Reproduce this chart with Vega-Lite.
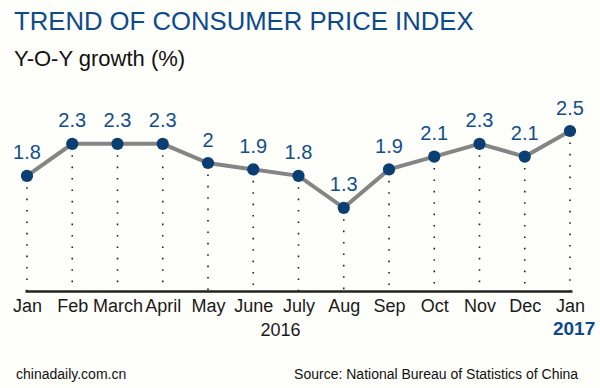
{
  "$schema": "https://vega.github.io/schema/vega-lite/v6.json",
  "autosize": "none",
  "width": 547,
  "height": 216,
  "padding": {"left": 25, "top": 75, "right": 28, "bottom": 97},
  "background": "#fefefb",
  "config": {
    "view": {"stroke": null},
    "font": "Liberation Sans",
    "text": {"font": "Liberation Sans"}
  },
  "title": {
    "text": "TREND OF CONSUMER PRICE INDEX",
    "subtitle": "Y-O-Y growth (%)",
    "anchor": "start",
    "frame": "group",
    "dx": -11,
    "offset": 4,
    "font": "Liberation Sans",
    "fontSize": 25.7,
    "fontWeight": "normal",
    "color": "#0d4a8a",
    "subtitleFont": "Liberation Sans",
    "subtitleFontSize": 22,
    "subtitleColor": "#111111",
    "subtitlePadding": 13
  },
  "data": {
    "values": [
      {"i": 0, "month": "Jan", "v": 1.8},
      {"i": 1, "month": "Feb", "v": 2.3},
      {"i": 2, "month": "March", "v": 2.3},
      {"i": 3, "month": "April", "v": 2.3},
      {"i": 4, "month": "May", "v": 2},
      {"i": 5, "month": "June", "v": 1.9},
      {"i": 6, "month": "July", "v": 1.8},
      {"i": 7, "month": "Aug", "v": 1.3},
      {"i": 8, "month": "Sep", "v": 1.9},
      {"i": 9, "month": "Oct", "v": 2.1},
      {"i": 10, "month": "Nov", "v": 2.3},
      {"i": 11, "month": "Dec", "v": 2.1},
      {"i": 12, "month": "Jan", "v": 2.5}
    ]
  },
  "layer": [
    {
      "mark": {"type": "rule", "stroke": "#222222", "strokeWidth": 1.6, "strokeDash": [1.6, 9.8]},
      "encoding": {
        "x": {
          "field": "i", "type": "quantitative",
          "scale": {"domain": [-0.044, 12.044], "nice": false, "zero": false},
          "axis": {
            "values": [0,1,2,3,4,5,6,7,8,9,10,11,12],
            "labelExpr": "['Jan','Feb','March','April','May','June','July','Aug','Sep','Oct','Nov','Dec','Jan'][datum.value]",
            "ticks": false,
            "tickSize": 0,
            "grid": false,
            "domainColor": "#222222",
            "domainWidth": 2.5,
            "labelFont": "Liberation Sans",
            "labelFontSize": 18,
            "labelColor": "#1a1a1a",
            "labelBaseline": "alphabetic",
            "labelPadding": 20,
            "labelOverlap": false,
            "labelFlush": false,
            "labelBound": false,
            "title": "2016",
            "titleFont": "Liberation Sans",
            "titleFontSize": 18,
            "titleFontWeight": "normal",
            "titleColor": "#1a1a1a",
            "titleX": 255,
            "titleY": 44,
            "titleAlign": "center",
            "titleBaseline": "alphabetic"
          }
        },
        "y": {
          "field": "v", "type": "quantitative",
          "scale": {"domain": [0, 3.375], "nice": false},
          "axis": null
        },
        "y2": {"datum": 0}
      }
    },
    {
      "mark": {"type": "line", "stroke": "#858585", "strokeWidth": 4},
      "encoding": {
        "x": {"field": "i", "type": "quantitative"},
        "y": {"field": "v", "type": "quantitative"}
      }
    },
    {
      "mark": {"type": "circle", "size": 150, "color": "#0b3f74", "opacity": 1},
      "encoding": {
        "x": {"field": "i", "type": "quantitative"},
        "y": {"field": "v", "type": "quantitative"}
      }
    },
    {
      "mark": {"type": "text", "fontSize": 20, "color": "#124e8c", "baseline": "alphabetic", "dy": -16.5},
      "encoding": {
        "x": {"field": "i", "type": "quantitative"},
        "y": {"field": "v", "type": "quantitative"},
        "text": {"field": "v", "type": "nominal"}
      }
    },
    {
      "data": {"values": [{"label": "2017"}]},
      "mark": {"type": "text", "fontSize": 19, "fontWeight": "bold", "color": "#0d4a8a", "baseline": "alphabetic", "align": "center"},
      "encoding": {
        "x": {"datum": 12.09},
        "y": {"datum": -0.69},
        "text": {"field": "label", "type": "nominal"}
      }
    },
    {
      "data": {"values": [{"label": "chinadaily.com.cn"}]},
      "mark": {"type": "text", "fontSize": 14, "fontWeight": "normal", "color": "#111111", "baseline": "alphabetic", "align": "left"},
      "encoding": {
        "x": {"datum": -0.243},
        "y": {"datum": -1.375},
        "text": {"field": "label", "type": "nominal"}
      }
    },
    {
      "data": {"values": [{"label": "Source: National Bureau of Statistics of China"}]},
      "mark": {"type": "text", "fontSize": 14, "fontWeight": "normal", "color": "#111111", "baseline": "alphabetic", "align": "right"},
      "encoding": {
        "x": {"datum": 12.18},
        "y": {"datum": -1.375},
        "text": {"field": "label", "type": "nominal"}
      }
    }
  ]
}
